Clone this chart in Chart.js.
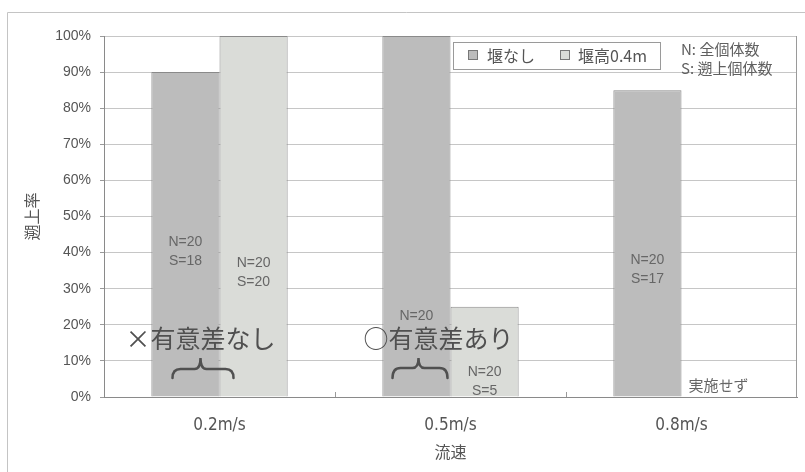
<!DOCTYPE html>
<html>
<head>
<meta charset="utf-8">
<script src="https://cdn.jsdelivr.net/npm/chart.js@4.4.1/dist/chart.umd.min.js"></script>
<style>
  html, body { margin: 0; padding: 0; background: #fff; }
  canvas { display: block; }
</style>
</head>
<body>
<canvas id="chart" width="805" height="472"></canvas>
<script>
// Flow speeds tested
const categories = ['0.2m/s', '0.5m/s', '0.8m/s'];
const seriesNames = ['堰なし', '堰高0.4m'];

// N: number of fish released, S: number that swam upstream
const totalNoWeir   = [20, 20, 20];
const climbedNoWeir = [18, 20, 17];
const totalWeir     = [20, 20, null];   // 0.8m/s not tested with the weir
const climbedWeir   = [20, 5, null];

const yTickValues = [0, 10, 20, 30, 40, 50, 60, 70, 80, 90, 100];

const rate = (s, n) => (n ? (s / n) * 100 : null);
const rateNoWeir = climbedNoWeir.map((s, i) => rate(s, totalNoWeir[i]));
const rateWeir = climbedWeir.map((s, i) => rate(s, totalWeir[i]));

const TEXT = '#555';
const SANS = '"Liberation Sans", Arial, "Noto Sans CJK JP", sans-serif';
const NARROW = '"Liberation Sans Narrow", "DejaVu Sans Condensed", "Liberation Sans", sans-serif';
const JP = '"Noto Sans CJK JP", "Liberation Sans", sans-serif';
const FILLS = ['#bcbcbc', '#dadcd8'];

// Count labels inside the bars: dataset, index, vertical position (in % units), lines to show
const countLabels = [
  { ds: 0, i: 0, at: 43,  lines: ['N', 'S'] },
  { ds: 1, i: 0, at: 37,  lines: ['N', 'S'] },
  { ds: 0, i: 1, at: 22.5, lines: ['N'] },
  { ds: 1, i: 1, at: 7,   lines: ['N', 'S'] },
  { ds: 0, i: 2, at: 38,  lines: ['N', 'S'] }
];
const counts = [
  { N: totalNoWeir, S: climbedNoWeir },
  { N: totalWeir, S: climbedWeir }
];

function drawBrace(ctx, x1, x2, xTip, yEnd, yMid, yTip) {
  ctx.beginPath();
  ctx.moveTo(x1, yEnd);
  ctx.quadraticCurveTo(x1, yMid, x1 + 8, yMid);
  ctx.lineTo(xTip - 6, yMid);
  ctx.quadraticCurveTo(xTip, yMid, xTip, yTip);
  ctx.quadraticCurveTo(xTip, yMid, xTip + 6, yMid);
  ctx.lineTo(x2 - 8, yMid);
  ctx.quadraticCurveTo(x2, yMid, x2, yEnd);
  ctx.stroke();
}

const decorations = {
  id: 'decorations',
  beforeDraw(chart) {
    const ctx = chart.ctx;
    ctx.save();
    ctx.fillStyle = '#fff';
    ctx.fillRect(0, 0, chart.width, chart.height);
    // outer frame
    ctx.strokeStyle = '#c4c4c4';
    ctx.lineWidth = 1;
    ctx.beginPath();
    ctx.moveTo(7.5, chart.height);
    ctx.lineTo(7.5, 12.5);
    ctx.lineTo(chart.width, 12.5);
    ctx.stroke();
    ctx.restore();
  },
  afterDatasetsDraw(chart) {
    const ctx = chart.ctx;
    const area = chart.chartArea;
    const xs = chart.scales.x;
    const ys = chart.scales.y;
    ctx.save();

    // right edge of the plot area
    ctx.strokeStyle = '#9a9a9a';
    ctx.lineWidth = 1;
    ctx.beginPath();
    ctx.moveTo(Math.round(area.right) - 0.5, area.top);
    ctx.lineTo(Math.round(area.right) - 0.5, area.bottom);
    ctx.stroke();

    // small inner tick marks between categories
    for (let i = 0; i < categories.length - 1; i++) {
      const x = Math.round((xs.getPixelForValue(i) + xs.getPixelForValue(i + 1)) / 2) + 0.5;
      ctx.beginPath();
      ctx.moveTo(x, area.bottom);
      ctx.lineTo(x, area.bottom - 5);
      ctx.stroke();
    }

    // N / S labels inside bars
    ctx.fillStyle = '#666';
    ctx.font = '14px ' + SANS;
    ctx.textAlign = 'center';
    ctx.textBaseline = 'middle';
    countLabels.forEach(l => {
      const bar = chart.getDatasetMeta(l.ds).data[l.i];
      const y0 = ys.getPixelForValue(l.at);
      l.lines.forEach((k, j) => {
        ctx.fillText(k + '=' + counts[l.ds][k][l.i], bar.x, y0 + j * 19);
      });
    });

    // not tested
    ctx.font = '15px ' + JP;
    ctx.textAlign = 'left';
    const emptyBar = chart.getDatasetMeta(1).data[2];
    ctx.fillText('実施せず', emptyBar.x - 27, ys.getPixelForValue(3.3));

    // significance notes with braces
    const c0 = xs.getPixelForValue(0);
    const c1 = xs.getPixelForValue(1);
    ctx.fillStyle = '#505050';
    ctx.font = '25px ' + JP;
    ctx.textAlign = 'center';
    ctx.fillText('×有意差なし', c0 - 19, 338);
    ctx.fillText('○有意差あり', c1 - 12, 338);
    ctx.strokeStyle = '#505050';
    ctx.lineWidth = 2.5;
    ctx.lineCap = 'round';
    drawBrace(ctx, c0 - 47, c0 + 14, c0 - 19, 378, 369, 358);
    drawBrace(ctx, c1 - 58, c1 - 3, c1 - 32, 378, 368, 358);

    // legend box
    ctx.lineCap = 'butt';
    ctx.lineWidth = 1;
    ctx.fillStyle = '#fff';
    ctx.strokeStyle = '#9a9a9a';
    ctx.fillRect(453.5, 42.5, 207, 27);
    ctx.strokeRect(453.5, 42.5, 207, 27);
    const legendItems = [{ x: 468, tx: 487 }, { x: 560, tx: 578 }];
    ctx.textAlign = 'left';
    ctx.textBaseline = 'middle';
    ctx.font = '16px ' + JP;
    legendItems.forEach((it, k) => {
      ctx.fillStyle = FILLS[k];
      ctx.fillRect(it.x + 0.5, 50.5, 9, 9);
      ctx.strokeStyle = '#777';
      ctx.strokeRect(it.x + 0.5, 50.5, 9, 9);
      ctx.fillStyle = TEXT;
      ctx.fillText(chart.data.datasets[k].label, it.tx, 56);
    });

    // key for N and S
    ctx.font = '15px ' + JP;
    ctx.fillStyle = '#606060';
    ctx.fillText('N: 全個体数', 681, 49);
    ctx.fillText('S: 遡上個体数', 681, 68);

    ctx.restore();
  }
};

new Chart(document.getElementById('chart'), {
  type: 'bar',
  data: {
    labels: categories,
    datasets: [
      {
        label: seriesNames[0],
        data: rateNoWeir,
        backgroundColor: FILLS[0],
        borderColor: '#8a8a8a',
        borderWidth: 1,
        categoryPercentage: 0.59,
        barPercentage: 1
      },
      {
        label: seriesNames[1],
        data: rateWeir,
        backgroundColor: FILLS[1],
        borderColor: '#8a8a8a',
        borderWidth: 1,
        categoryPercentage: 0.59,
        barPercentage: 1
      }
    ]
  },
  options: {
    responsive: false,
    animation: false,
    devicePixelRatio: 1,
    layout: { padding: { top: 36, right: 8, left: 0, bottom: 0 } },
    plugins: { legend: { display: false }, tooltip: { enabled: false } },
    scales: {
      x: {
        grid: { drawOnChartArea: false, drawTicks: false },
        border: { color: '#8a8a8a' },
        ticks: { color: TEXT, font: { family: NARROW, size: 17 }, padding: 18 },
        title: {
          display: true, text: '流速', color: TEXT,
          font: { family: JP, size: 16 }, padding: { top: 0, bottom: 10 }
        },
        afterFit(s) { s.height = 75; }
      },
      y: {
        min: 0, max: 100,
        afterBuildTicks(s) { s.ticks = yTickValues.map(v => ({ value: v })); },
        ticks: { color: TEXT, font: { family: SANS, size: 14 }, padding: 9, callback: v => v + '%' },
        grid: { color: '#c6c6c6', tickLength: 4, tickColor: '#9a9a9a' },
        border: { color: '#8a8a8a' },
        title: {
          display: true, text: '遡上率', color: TEXT,
          font: { family: JP, size: 16 }, padding: { top: 22, bottom: 0 }
        },
        afterFit(s) { s.width = 104; }
      }
    }
  },
  plugins: [decorations]
});
</script>
</body>
</html>
